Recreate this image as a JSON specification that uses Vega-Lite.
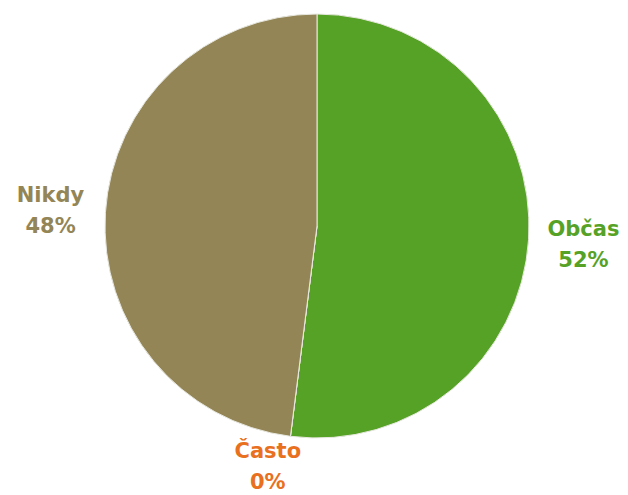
{
  "$schema": "https://vega.github.io/schema/vega-lite/v6.json",
  "width": 424,
  "height": 424,
  "autosize": "none",
  "padding": {"left": 105, "top": 14, "right": 99, "bottom": 57},
  "background": "white",
  "data": {
    "values": [
      {"kategorie": "Občas", "podil": 52, "popisek": "Občas\n52%", "poradi": 1},
      {"kategorie": "Často", "podil": 0, "popisek": "Často\n0%", "poradi": 2},
      {"kategorie": "Nikdy", "podil": 48, "popisek": "Nikdy\n48%", "poradi": 3}
    ]
  },
  "encoding": {
    "theta": {"field": "podil", "type": "quantitative", "stack": true},
    "order": {"field": "poradi", "type": "quantitative"},
    "color": {
      "field": "kategorie",
      "type": "nominal",
      "scale": {"domain": ["Občas", "Často", "Nikdy"], "range": ["#56A226", "#E8701E", "#938555"]},
      "legend": null
    }
  },
  "layer": [
    {
      "mark": {"type": "arc", "outerRadius": 212, "stroke": "#e8e8e0", "strokeWidth": 1}
    },
    {
      "mark": {
        "type": "text",
        "radius": 267,
        "dy": -13,
        "font": "DejaVu Sans",
        "fontWeight": "bold",
        "fontSize": 21,
        "lineBreak": "\n",
        "lineHeight": 31,
        "align": "center",
        "baseline": "middle"
      },
      "encoding": {
        "text": {"condition": {"test": "datum.kategorie === 'Často'", "value": ""}, "field": "popisek", "type": "nominal"}
      }
    },
    {
      "mark": {
        "type": "text",
        "radius": 241,
        "dx": -19,
        "dy": -13,
        "font": "DejaVu Sans",
        "fontWeight": "bold",
        "fontSize": 21,
        "lineBreak": "\n",
        "lineHeight": 31,
        "align": "center",
        "baseline": "middle"
      },
      "encoding": {
        "text": {"condition": {"test": "datum.kategorie !== 'Často'", "value": ""}, "field": "popisek", "type": "nominal"}
      }
    }
  ],
  "view": {"stroke": null}
}
